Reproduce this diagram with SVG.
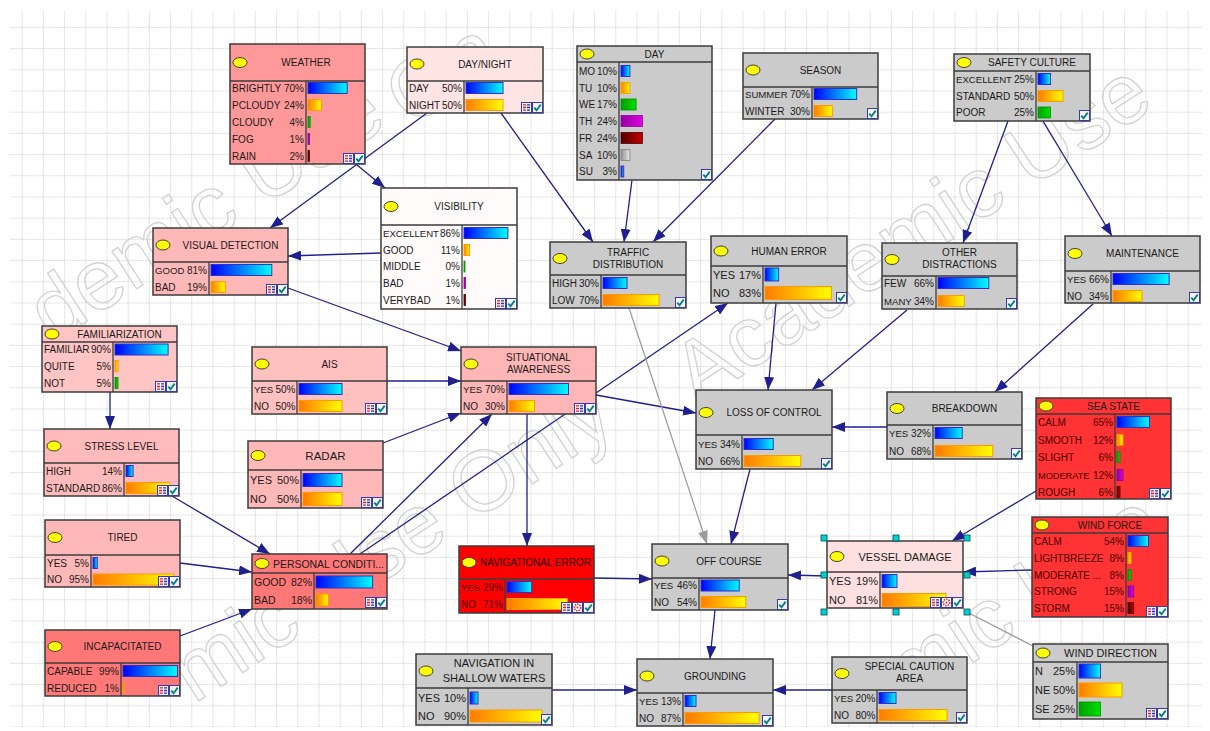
<svg xmlns="http://www.w3.org/2000/svg" width="1210" height="731" viewBox="0 0 1210 731">
<defs>
<style>
.nb{stroke:#3c3c3c;stroke-width:1.5}
.sp{stroke:#3c3c3c;stroke-width:1.3;fill:none}
.el{fill:#ffff00;stroke:#404040;stroke-width:1}
.tt{font-family:"Liberation Sans",Arial,sans-serif;font-size:10px;fill:#1a1a1a;text-anchor:middle}
.r{font-family:"Liberation Sans",Arial,sans-serif;font-size:10px;fill:#1a1a1a}
.t9{font-size:9.6px}
.t8{font-size:9.2px}
.f11{font-size:11px}
.f105{font-size:10.5px}
.pe{text-anchor:end}
.dk{fill:#4a0000}
.bB{fill:url(#gB);stroke:#3030c8;stroke-width:1}
.bO{fill:url(#gO);stroke:#ff9a00;stroke-width:1}
.bG{fill:url(#gG);stroke:#009000;stroke-width:0.8}
.bM{fill:url(#gM);stroke:#9000a0;stroke-width:0.8}
.bR{fill:url(#gR);stroke:#500000;stroke-width:0.8}
.bS{fill:url(#gS);stroke:#808080;stroke-width:0.8}
.ed{stroke:#1f1f8f;stroke-width:1.3;fill:none;marker-end:url(#arr)}
.eg{stroke:#9a9a9a;stroke-width:1.2;fill:none}
.wm{font-family:"Liberation Sans",Arial,sans-serif;font-size:85px;fill:none;stroke:#d2d2d2;stroke-width:1.3}
.hd{fill:#00d0d0;stroke:#005050;stroke-width:0.8}
</style>
<linearGradient id="gB"><stop offset="0" stop-color="#0000ff"/><stop offset="1" stop-color="#00ffff"/></linearGradient>
<linearGradient id="gO"><stop offset="0" stop-color="#ff7a00"/><stop offset="1" stop-color="#ffff00"/></linearGradient>
<linearGradient id="gG"><stop offset="0" stop-color="#00a000"/><stop offset="1" stop-color="#00e000"/></linearGradient>
<linearGradient id="gM"><stop offset="0" stop-color="#9000a0"/><stop offset="1" stop-color="#e000e0"/></linearGradient>
<linearGradient id="gR"><stop offset="0" stop-color="#500000"/><stop offset="1" stop-color="#c80000"/></linearGradient>
<linearGradient id="gS"><stop offset="0" stop-color="#909090"/><stop offset="1" stop-color="#e8e8e8"/></linearGradient>
<pattern id="grid" width="21.2" height="21.2" patternUnits="userSpaceOnUse" x="0.5" y="5.7">
<path d="M0 0.5H21.2M0.5 0V21.2" stroke="#d6d6d6" stroke-width="1" stroke-dasharray="1.5 1" fill="none"/>
</pattern>
<marker id="arr" viewBox="0 0 13 10" markerWidth="13" markerHeight="10" refX="13" refY="5" orient="auto" markerUnits="userSpaceOnUse">
<path d="M0 0L13 5L0 10z" fill="#1f1f8f"/>
</marker>
<marker id="arrg" viewBox="0 0 13 10" markerWidth="13" markerHeight="10" refX="13" refY="5" orient="auto" markerUnits="userSpaceOnUse">
<path d="M0 0L13 5L0 10z" fill="#9a9a9a"/>
</marker>
<g id="icC"><rect x="0.5" y="0.5" width="10" height="10" fill="#f4f4ff" stroke="#3a3aa8"/><path d="M2.3 5.6L4.5 8.2L8.7 2.6" stroke="#008080" stroke-width="1.8" fill="none"/></g>
<g id="icT"><rect x="0.5" y="0.5" width="10" height="10" fill="#f4f4ff" stroke="#3a3aa8"/><path d="M2 2.8h3M2 5.5h3M2 8.2h3" stroke="#e02020" stroke-width="1.3"/><path d="M6 2.8h3M6 5.5h3M6 8.2h3" stroke="#2a2ac0" stroke-width="1.3"/></g>
<g id="icS"><rect x="0.5" y="0.5" width="10" height="10" fill="#ffffff" stroke="#3a3aa8"/><circle cx="5.5" cy="5.5" r="3.2" fill="none" stroke="#e02020" stroke-width="1.6" stroke-dasharray="1.4 1"/><circle cx="5.5" cy="5.5" r="1" fill="#e02020"/></g>
</defs>

<rect width="1210" height="731" fill="#ffffff"/>
<rect x="10" y="11" width="1192" height="716" fill="url(#grid)"/>

<g id="watermark">
<text class="wm" transform="translate(52.5 343.4) rotate(-33)">demic</text>
<text class="wm" transform="translate(263 207) rotate(-33)">Use</text>
<text class="wm" transform="translate(410 128) rotate(-33)">On</text>
<text class="wm" transform="translate(194 704) rotate(-33)">mic</text>
<text class="wm" transform="translate(325 619) rotate(-33)">Use</text>
<text class="wm" transform="translate(472 523) rotate(-33)">Only</text>
<text class="wm" transform="translate(697 405) rotate(-33)">Academic</text>
<text class="wm" transform="translate(1030 189) rotate(-33)">Use</text>
<text class="wm" transform="translate(909 704) rotate(-33)">mic</text>
<text class="wm" transform="translate(1040 619) rotate(-33)">Use</text>
</g>

<g id="connectors">
<path class="ed" d="M427 113L270 228"/>
<path class="ed" d="M357 165L385 188"/>
<path class="ed" d="M501 113L593 242"/>
<path class="ed" d="M632 180L624 242"/>
<path class="ed" d="M775 119L653 242"/>
<path class="ed" d="M1008 121L963 243"/>
<path class="ed" d="M1043 121L1112 236"/>
<path class="ed" d="M381 253L288 256"/>
<path class="ed" d="M288 288L461 351"/>
<path class="ed" d="M387 381L461 381"/>
<path class="ed" d="M383 443L461 413"/>
<path class="ed" d="M350 554L492 414"/>
<path class="ed" d="M360 554L728 303"/>
<path class="ed" d="M596 395L696 413"/>
<path class="ed" d="M527 414L527 546"/>
<path class="ed" d="M776 303L768 390"/>
<path class="ed" d="M907 310L812 390"/>
<path class="ed" d="M1093 304L995 392"/>
<path class="ed" d="M887 427L832 427"/>
<path class="ed" d="M750 469L731 544"/>
<path class="eg" d="M629 308L707 544" marker-end="url(#arrg)"/>
<path class="ed" d="M594 578L652 579"/>
<path class="ed" d="M827 576L788 575"/>
<path class="ed" d="M1036 491L952 541"/>
<path class="ed" d="M1032 570L963 572"/>
<path class="eg" d="M1033 646L967 612"/>
<path class="ed" d="M715 610L710 659"/>
<path class="ed" d="M552 690L637 690"/>
<path class="ed" d="M832 690L773 690"/>
<path class="ed" d="M110 392L110 429"/>
<path class="ed" d="M172 496L270 554"/>
<path class="ed" d="M180 563L252 572"/>
<path class="ed" d="M180 636L252 609"/>
</g>

<g id="weather">
<rect class="nb" x="230" y="44" width="135" height="120" fill="#ff9999"/>
<path class="sp" d="M230 81H365M306 81V164"/>
<ellipse class="el" cx="240" cy="62.5" rx="7" ry="5"/>
<text class="tt" x="306" y="66">WEATHER</text>
<text class="r" x="232" y="91.5">BRIGHTLY</text><text class="r pe" x="304" y="91.5">70%</text><rect class="bB" x="308" y="82.5" width="39.2" height="11"/>
<text class="r" x="232" y="108.5">PCLOUDY</text><text class="r pe" x="304" y="108.5">24%</text><rect class="bO" x="308" y="99.5" width="13.4" height="11"/>
<text class="r" x="232" y="125.5">CLOUDY</text><text class="r pe" x="304" y="125.5">4%</text><rect class="bG" x="308" y="116.5" width="2.2" height="11"/>
<text class="r" x="232" y="142.5">FOG</text><text class="r pe" x="304" y="142.5">1%</text><rect class="bM" x="308" y="133.5" width="1.5" height="11"/>
<text class="r" x="232" y="159.5">RAIN</text><text class="r pe" x="304" y="159.5">2%</text><rect class="bR" x="308" y="150.5" width="1.5" height="11"/>
<use href="#icT" x="343" y="153"/><use href="#icC" x="354" y="153"/>
</g>

<g id="daynight">
<rect class="nb" x="407" y="47" width="136" height="66" fill="#ffe4e4"/>
<path class="sp" d="M407 81H543M464 81V113"/>
<ellipse class="el" cx="417" cy="64" rx="7" ry="5"/>
<text class="tt" x="485" y="67.5">DAY/NIGHT</text>
<text class="r" x="409" y="91.5">DAY</text><text class="r pe" x="462" y="91.5">50%</text><rect class="bB" x="466" y="82.5" width="37" height="11"/>
<text class="r" x="409" y="108.5">NIGHT</text><text class="r pe" x="462" y="108.5">50%</text><rect class="bO" x="466" y="99.5" width="37" height="11"/>
<use href="#icT" x="521" y="102"/><use href="#icC" x="532" y="102"/>
</g>

<g id="day">
<rect class="nb" x="577" y="46" width="135" height="134" fill="#cbcbcb"/>
<path class="sp" d="M577 62H712M619 62V180"/>
<ellipse class="el" cx="587" cy="54" rx="7" ry="5"/>
<text class="tt" x="654.5" y="57.5">DAY</text>
<text class="r" x="579" y="74.5">MO</text><text class="r pe" x="617" y="74.5">10%</text><rect class="bB" x="621" y="65.5" width="8.9" height="11"/>
<text class="r" x="579" y="91.5">TU</text><text class="r pe" x="617" y="91.5">10%</text><rect class="bO" x="621" y="82.5" width="8.9" height="11"/>
<text class="r" x="579" y="108">WE</text><text class="r pe" x="617" y="108">17%</text><rect class="bG" x="621" y="99" width="15.1" height="11"/>
<text class="r" x="579" y="124.5">TH</text><text class="r pe" x="617" y="124.5">24%</text><rect class="bM" x="621" y="115.5" width="21.4" height="11"/>
<text class="r" x="579" y="141.5">FR</text><text class="r pe" x="617" y="141.5">24%</text><rect class="bR" x="621" y="132.5" width="21.4" height="11"/>
<text class="r" x="579" y="158.5">SA</text><text class="r pe" x="617" y="158.5">10%</text><rect class="bS" x="621" y="149.5" width="8.9" height="11"/>
<text class="r" x="579" y="175">SU</text><text class="r pe" x="617" y="175">3%</text><rect class="bB" x="621" y="166" width="2.7" height="11"/>
<use href="#icC" x="701" y="169"/>
</g>

<g id="season">
<rect class="nb" x="743" y="53" width="135" height="66" fill="#cbcbcb"/>
<path class="sp" d="M743 87H878M812 87V119"/>
<ellipse class="el" cx="753" cy="70" rx="7" ry="5"/>
<text class="tt" x="820.5" y="73.5">SEASON</text>
<text class="r t9" x="745" y="97.5">SUMMER</text><text class="r pe" x="810" y="97.5">70%</text><rect class="bB" x="814" y="88.5" width="42.7" height="11"/>
<text class="r" x="745" y="114.5">WINTER</text><text class="r pe" x="810" y="114.5">30%</text><rect class="bO" x="814" y="105.5" width="18.3" height="11"/>
<use href="#icC" x="867" y="108"/>
</g>

<g id="safetyculture">
<rect class="nb" x="954" y="54" width="136" height="67" fill="#cbcbcb"/>
<path class="sp" d="M954 71H1090M1036 71V121"/>
<ellipse class="el" cx="964" cy="62.5" rx="7" ry="5"/>
<text class="tt" x="1032" y="66">SAFETY CULTURE</text>
<text class="r t9" x="956" y="82.5">EXCELLENT</text><text class="r pe" x="1034" y="82.5">25%</text><rect class="bB" x="1038" y="73.5" width="12.5" height="11"/>
<text class="r" x="956" y="99.5">STANDARD</text><text class="r pe" x="1034" y="99.5">50%</text><rect class="bO" x="1038" y="90.5" width="25" height="11"/>
<text class="r" x="956" y="116">POOR</text><text class="r pe" x="1034" y="116">25%</text><rect class="bG" x="1038" y="107" width="12.5" height="11"/>
<use href="#icC" x="1079" y="110"/>
</g>

<g id="visibility">
<rect class="nb" x="381" y="188" width="136" height="121" fill="#fffbfb"/>
<path class="sp" d="M381 225H517M462 225V309"/>
<ellipse class="el" cx="391" cy="206.5" rx="7" ry="5"/>
<text class="tt" x="459" y="210">VISIBILITY</text>
<text class="r t9" x="383" y="236.5">EXCELLENT</text><text class="r pe" x="460" y="236.5">86%</text><rect class="bB" x="464" y="227.5" width="43.9" height="11"/>
<text class="r" x="383" y="253.5">GOOD</text><text class="r pe" x="460" y="253.5">11%</text><rect class="bO" x="464" y="244.5" width="5.6" height="11"/>
<text class="r" x="383" y="270">MIDDLE</text><text class="r pe" x="460" y="270">0%</text><rect class="bG" x="464" y="261" width="1" height="11"/>
<text class="r" x="383" y="286.5">BAD</text><text class="r pe" x="460" y="286.5">1%</text><rect class="bM" x="464" y="277.5" width="1.5" height="11"/>
<text class="r" x="383" y="303.5">VERYBAD</text><text class="r pe" x="460" y="303.5">1%</text><rect class="bR" x="464" y="294.5" width="1.5" height="11"/>
<use href="#icT" x="495" y="298"/><use href="#icC" x="506" y="298"/>
</g>

<g id="visualdetection">
<rect class="nb" x="153" y="228" width="135" height="67" fill="#ffb8b8"/>
<path class="sp" d="M153 262H288M209 262V295"/>
<ellipse class="el" cx="163" cy="245" rx="7" ry="5"/>
<text class="tt" x="230.5" y="248.5">VISUAL DETECTION</text>
<text class="r t9" x="155" y="273.5">GOOD</text><text class="r pe" x="207" y="273.5">81%</text><rect class="bB" x="211" y="264.5" width="60.8" height="11"/>
<text class="r" x="155" y="290.5">BAD</text><text class="r pe" x="207" y="290.5">19%</text><rect class="bO" x="211" y="281.5" width="14.3" height="11"/>
<use href="#icT" x="266" y="284"/><use href="#icC" x="277" y="284"/>
</g>

<g id="trafficdistribution">
<rect class="nb" x="550" y="242" width="136" height="66" fill="#cbcbcb"/>
<path class="sp" d="M550 275H686M601 275V308"/>
<ellipse class="el" cx="560" cy="258.5" rx="7" ry="5"/>
<text class="tt" x="628" y="255.5">TRAFFIC</text>
<text class="tt" x="628" y="267.5">DISTRIBUTION</text>
<text class="r" x="552" y="286.5">HIGH</text><text class="r pe" x="599" y="286.5">30%</text><rect class="bB" x="603" y="277.5" width="24" height="11"/>
<text class="r" x="552" y="303.5">LOW</text><text class="r pe" x="599" y="303.5">70%</text><rect class="bO" x="603" y="294.5" width="56" height="11"/>
<use href="#icC" x="675" y="297"/>
</g>

<g id="humanerror">
<rect class="nb" x="711" y="236" width="136" height="67" fill="#cbcbcb"/>
<path class="sp" d="M711 266H847M763 266V303"/>
<ellipse class="el" cx="721" cy="251" rx="7" ry="5"/>
<text class="tt" x="789" y="254.5">HUMAN ERROR</text>
<text class="r f11" x="713" y="278.5">YES</text><text class="r f11 pe" x="761" y="278.5">17%</text><rect class="bB" x="765" y="268" width="13.6" height="13"/>
<text class="r f11" x="713" y="297">NO</text><text class="r f11 pe" x="761" y="297">83%</text><rect class="bO" x="765" y="286.5" width="66.4" height="13"/>
<use href="#icC" x="836" y="292"/>
</g>

<g id="otherdistractions">
<rect class="nb" x="882" y="243" width="135" height="66" fill="#cbcbcb"/>
<path class="sp" d="M882 276H1017M936 276V309"/>
<ellipse class="el" cx="892" cy="259.5" rx="7" ry="5"/>
<text class="tt" x="959.5" y="255.5">OTHER</text>
<text class="tt" x="959.5" y="267.5">DISTRACTIONS</text>
<text class="r" x="884" y="286.5">FEW</text><text class="r pe" x="934" y="286.5">66%</text><rect class="bB" x="938" y="277.5" width="50.8" height="11"/>
<text class="r t9" x="884" y="304.5">MANY</text><text class="r pe" x="934" y="304.5">34%</text><rect class="bO" x="938" y="295.5" width="26.2" height="11"/>
<use href="#icC" x="1006" y="298"/>
</g>

<g id="maintenance">
<rect class="nb" x="1065" y="236" width="135" height="67" fill="#cbcbcb"/>
<path class="sp" d="M1065 271H1200M1111 271V303"/>
<ellipse class="el" cx="1075" cy="253.5" rx="7" ry="5"/>
<text class="tt" x="1142.5" y="257">MAINTENANCE</text>
<text class="r t9" x="1067" y="282.5">YES</text><text class="r pe" x="1109" y="282.5">66%</text><rect class="bB" x="1113" y="273.5" width="56.1" height="11"/>
<text class="r" x="1067" y="299.5">NO</text><text class="r pe" x="1109" y="299.5">34%</text><rect class="bO" x="1113" y="290.5" width="28.9" height="11"/>
<use href="#icC" x="1189" y="292"/>
</g>

<g id="familiarization">
<rect class="nb" x="42" y="326" width="135" height="66" fill="#ffc4c4"/>
<path class="sp" d="M42 342H177M113 342V392"/>
<ellipse class="el" cx="52" cy="334" rx="7" ry="5"/>
<text class="tt" x="119.5" y="337.5">FAMILIARIZATION</text>
<text class="r" x="44" y="353">FAMILIAR</text><text class="r pe" x="111" y="353">90%</text><rect class="bB" x="115" y="344" width="53.1" height="11"/>
<text class="r" x="44" y="369.5">QUITE</text><text class="r pe" x="111" y="369.5">5%</text><rect class="bO" x="115" y="360.5" width="3" height="11"/>
<text class="r" x="44" y="386.5">NOT</text><text class="r pe" x="111" y="386.5">5%</text><rect class="bG" x="115" y="377.5" width="3" height="11"/>
<use href="#icT" x="155" y="381"/><use href="#icC" x="166" y="381"/>
</g>

<g id="ais">
<rect class="nb" x="252" y="347" width="135" height="67" fill="#ffc0c0"/>
<path class="sp" d="M252 381H387M297 381V414"/>
<ellipse class="el" cx="262" cy="364" rx="7" ry="5"/>
<text class="tt" x="329.5" y="367.5">AIS</text>
<text class="r t9" x="254" y="392.5">YES</text><text class="r pe" x="295.5" y="392.5">50%</text><rect class="bB" x="299" y="383.5" width="43" height="11"/>
<text class="r" x="254" y="409.5">NO</text><text class="r pe" x="295.5" y="409.5">50%</text><rect class="bO" x="299" y="400.5" width="43" height="11"/>
<use href="#icT" x="365" y="403"/><use href="#icC" x="376" y="403"/>
</g>

<g id="situationalawareness">
<rect class="nb" x="461" y="347" width="135" height="67" fill="#ffb6b6"/>
<path class="sp" d="M461 381H596M507 381V414"/>
<ellipse class="el" cx="471" cy="364" rx="7" ry="5"/>
<text class="tt" x="538.5" y="360.5">SITUATIONAL</text>
<text class="tt" x="538.5" y="372.5">AWARENESS</text>
<text class="r t9" x="463" y="392.5">YES</text><text class="r pe" x="505" y="392.5">70%</text><rect class="bB" x="509" y="383.5" width="59.5" height="11"/>
<text class="r" x="463" y="409.5">NO</text><text class="r pe" x="505" y="409.5">30%</text><rect class="bO" x="509" y="400.5" width="25.5" height="11"/>
<use href="#icT" x="574" y="403"/><use href="#icC" x="585" y="403"/>
</g>

<g id="lossofcontrol">
<rect class="nb" x="696" y="390" width="136" height="79" fill="#cbcbcb"/>
<path class="sp" d="M696 435H832M742 435V469"/>
<ellipse class="el" cx="706" cy="412.5" rx="7" ry="5"/>
<text class="tt" x="774" y="416">LOSS OF CONTROL</text>
<text class="r t9" x="698" y="447.5">YES</text><text class="r pe" x="740" y="447.5">34%</text><rect class="bB" x="744" y="438.5" width="29.2" height="11"/>
<text class="r" x="698" y="464.5">NO</text><text class="r pe" x="740" y="464.5">66%</text><rect class="bO" x="744" y="455.5" width="56.8" height="11"/>
<use href="#icC" x="821" y="458"/>
</g>

<g id="breakdown">
<rect class="nb" x="887" y="392" width="135" height="67" fill="#cbcbcb"/>
<path class="sp" d="M887 425H1022M933 425V459"/>
<ellipse class="el" cx="897" cy="408.5" rx="7" ry="5"/>
<text class="tt" x="964.5" y="412">BREAKDOWN</text>
<text class="r t9" x="889" y="436.5">YES</text><text class="r pe" x="931" y="436.5">32%</text><rect class="bB" x="935" y="427.5" width="27.2" height="11"/>
<text class="r" x="889" y="454.5">NO</text><text class="r pe" x="931" y="454.5">68%</text><rect class="bO" x="935" y="445.5" width="57.8" height="11"/>
<use href="#icC" x="1011" y="448"/>
</g>

<g id="seastate">
<rect class="nb" x="1036" y="398" width="135" height="101" fill="#ff3333"/>
<path class="sp" d="M1036 414H1171M1115 414V499"/>
<ellipse class="el" cx="1046" cy="406" rx="7" ry="5"/>
<text class="tt" x="1113.5" y="409.5">SEA STATE</text>
<text class="r dk" x="1038" y="425.5">CALM</text><text class="r dk pe" x="1113" y="425.5">65%</text><rect class="bB" x="1117" y="416.5" width="32.5" height="11"/>
<text class="r dk" x="1038" y="443.5">SMOOTH</text><text class="r dk pe" x="1113" y="443.5">12%</text><rect class="bO" x="1117" y="434.5" width="6" height="11"/>
<text class="r dk" x="1038" y="460.5">SLIGHT</text><text class="r dk pe" x="1113" y="460.5">6%</text><rect class="bG" x="1117" y="451.5" width="3" height="11"/>
<text class="r dk t8" x="1038" y="478.5">MODERATE</text><text class="r dk pe" x="1113" y="478.5">12%</text><rect class="bM" x="1117" y="469.5" width="6" height="11"/>
<text class="r dk" x="1038" y="495.5">ROUGH</text><text class="r dk pe" x="1113" y="495.5">6%</text><rect class="bR" x="1117" y="486.5" width="3" height="11"/>
<use href="#icT" x="1149" y="488"/><use href="#icC" x="1160" y="488"/>
</g>

<g id="stresslevel">
<rect class="nb" x="44" y="429" width="135" height="67" fill="#ffbbbb"/>
<path class="sp" d="M44 463H179M124 463V496"/>
<ellipse class="el" cx="54" cy="446" rx="7" ry="5"/>
<text class="tt" x="121.5" y="449.5">STRESS LEVEL</text>
<text class="r" x="46" y="474.5">HIGH</text><text class="r pe" x="122" y="474.5">14%</text><rect class="bB" x="126" y="465.5" width="7.1" height="11"/>
<text class="r" x="46" y="491.5">STANDARD</text><text class="r pe" x="122" y="491.5">86%</text><rect class="bO" x="126" y="482.5" width="43.9" height="11"/>
<use href="#icT" x="157" y="485"/><use href="#icC" x="168" y="485"/>
</g>

<g id="radar">
<rect class="nb" x="248" y="441" width="135" height="67" fill="#ffb8b8"/>
<path class="sp" d="M248 470H383M301 470V508"/>
<ellipse class="el" cx="258" cy="455.5" rx="7" ry="5"/>
<text class="tt" x="325.5" y="459.5" style="font-size:11.5px">RADAR</text>
<text class="r f11" x="250" y="484">YES</text><text class="r f11 pe" x="299" y="484">50%</text><rect class="bB" x="303" y="473.5" width="39" height="13"/>
<text class="r f11" x="250" y="503">NO</text><text class="r f11 pe" x="299" y="503">50%</text><rect class="bO" x="303" y="492.5" width="39" height="13"/>
<use href="#icT" x="361" y="497"/><use href="#icC" x="372" y="497"/>
</g>

<g id="tired">
<rect class="nb" x="45" y="520" width="135" height="67" fill="#ffb8b8"/>
<path class="sp" d="M45 555H180M91 555V587"/>
<ellipse class="el" cx="55" cy="537.5" rx="7" ry="5"/>
<text class="tt" x="122.5" y="541">TIRED</text>
<text class="r" x="47" y="566.5">YES</text><text class="r pe" x="89" y="566.5">5%</text><rect class="bB" x="93" y="557.5" width="4.3" height="11"/>
<text class="r" x="47" y="583">NO</text><text class="r pe" x="89" y="583">95%</text><rect class="bO" x="93" y="574" width="80.8" height="11"/>
<use href="#icT" x="158" y="576"/><use href="#icC" x="169" y="576"/>
</g>

<g id="personalcondition">
<rect class="nb" x="252" y="554" width="135" height="55" fill="#ff7777"/>
<path class="sp" d="M252 573H387M314 573V609"/>
<ellipse class="el" cx="262" cy="563.5" rx="7" ry="5"/>
<text class="r" x="273" y="567.5" style="font-size:11px" textLength="111" lengthAdjust="spacingAndGlyphs">PERSONAL CONDITI...</text>
<text class="r f105" x="254" y="585.8">GOOD</text><text class="r f105 pe" x="312" y="585.8">82%</text><rect class="bB" x="316" y="576" width="56.6" height="12"/>
<text class="r f105" x="254" y="603.8">BAD</text><text class="r f105 pe" x="312" y="603.8">18%</text><rect class="bO" x="316" y="594" width="12.4" height="12"/>
<use href="#icT" x="365" y="597"/><use href="#icC" x="376" y="597"/>
</g>

<g id="incapacitated">
<rect class="nb" x="45" y="630" width="135" height="66" fill="#ff7777"/>
<path class="sp" d="M45 663H180M121 663V696"/>
<ellipse class="el" cx="55" cy="646.5" rx="7" ry="5"/>
<text class="tt" x="122.5" y="650">INCAPACITATED</text>
<text class="r" x="47" y="674.5">CAPABLE</text><text class="r pe" x="119" y="674.5">99%</text><rect class="bB" x="123" y="665.5" width="54.5" height="11"/>
<text class="r" x="47" y="691.5">REDUCED</text><text class="r pe" x="119" y="691.5">1%</text><rect class="bO" x="123" y="682.5" width="1" height="11"/>
<use href="#icT" x="158" y="685"/><use href="#icC" x="169" y="685"/>
</g>

<g id="navigationalerror">
<rect class="nb" x="459" y="546" width="135" height="67" fill="#ff0000"/>
<path class="sp" d="M459 579H594M505 579V613"/>
<ellipse class="el" cx="469" cy="562.5" rx="7" ry="5"/>
<text class="r" x="480" y="566" textLength="111" lengthAdjust="spacingAndGlyphs" style="fill:#2a0000;font-size:10px">NAVIGATIONAL ERROR</text>
<text class="r dk t9" x="461" y="590.5">YES</text><text class="r dk pe" x="503" y="590.5">29%</text><rect class="bB" x="507" y="581.5" width="24.7" height="11"/>
<text class="r dk" x="461" y="607.5">NO</text><text class="r dk pe" x="503" y="607.5">71%</text><rect class="bO" x="507" y="598.5" width="60.4" height="11"/>
<use href="#icT" x="561" y="602"/><use href="#icS" x="572" y="602"/><use href="#icC" x="583" y="602"/>
</g>

<g id="offcourse">
<rect class="nb" x="652" y="544" width="136" height="66" fill="#cbcbcb"/>
<path class="sp" d="M652 578H788M699 578V610"/>
<ellipse class="el" cx="662" cy="561" rx="7" ry="5"/>
<text class="tt" x="729" y="564.5">OFF COURSE</text>
<text class="r t9" x="654" y="589">YES</text><text class="r pe" x="697" y="589">46%</text><rect class="bB" x="701" y="580" width="38.2" height="11"/>
<text class="r" x="654" y="605.5">NO</text><text class="r pe" x="697" y="605.5">54%</text><rect class="bO" x="701" y="596.5" width="44.8" height="11"/>
<use href="#icC" x="777" y="599"/>
</g>

<g id="vesseldamage">
<rect class="nb" x="827" y="541" width="136" height="67" fill="#ffe0e0"/>
<path class="sp" d="M827 572H963M880 572V608"/>
<ellipse class="el" cx="837" cy="556.5" rx="7" ry="5"/>
<text class="tt" x="905" y="560.5" style="font-size:11px">VESSEL DAMAGE</text>
<text class="r f11" x="829" y="585">YES</text><text class="r f11 pe" x="878" y="585">19%</text><rect class="bB" x="882" y="574.5" width="15" height="13"/>
<text class="r f11" x="829" y="604">NO</text><text class="r f11 pe" x="878" y="604">81%</text><rect class="bO" x="882" y="593.5" width="64" height="13"/>
<use href="#icT" x="930" y="597"/><use href="#icS" x="941" y="597"/><use href="#icC" x="952" y="597"/>
<rect class="hd" x="821" y="535" width="6" height="6"/><rect class="hd" x="893" y="535" width="6" height="6"/><rect class="hd" x="964" y="535" width="6" height="6"/>
<rect class="hd" x="821" y="572" width="6" height="6"/><rect class="hd" x="964" y="572" width="6" height="6"/>
<rect class="hd" x="821" y="609" width="6" height="6"/><rect class="hd" x="893" y="609" width="6" height="6"/><rect class="hd" x="964" y="609" width="6" height="6"/>
</g>

<g id="windforce">
<rect class="nb" x="1032" y="517" width="136" height="100" fill="#ff3333"/>
<path class="sp" d="M1032 533H1168M1126 533V617"/>
<ellipse class="el" cx="1042" cy="525" rx="7" ry="5"/>
<text class="tt" x="1110" y="528.5">WIND FORCE</text>
<text class="r dk" x="1034" y="544.5">CALM</text><text class="r dk pe" x="1124" y="544.5">54%</text><rect class="bB" x="1128" y="535.5" width="20.5" height="11"/>
<text class="r dk" x="1034" y="561.5">LIGHTBREEZE</text><text class="r dk pe" x="1124" y="561.5">8%</text><rect class="bO" x="1128" y="552.5" width="3" height="11"/>
<text class="r dk" x="1034" y="578.5">MODERATE ...</text><text class="r dk pe" x="1124" y="578.5">8%</text><rect class="bG" x="1128" y="569.5" width="3" height="11"/>
<text class="r dk" x="1034" y="595">STRONG</text><text class="r dk pe" x="1124" y="595">15%</text><rect class="bM" x="1128" y="586" width="5.7" height="11"/>
<text class="r dk" x="1034" y="611.5">STORM</text><text class="r dk pe" x="1124" y="611.5">15%</text><rect class="bR" x="1128" y="602.5" width="5.7" height="11"/>
<use href="#icT" x="1146" y="606"/><use href="#icC" x="1157" y="606"/>
</g>

<g id="navshallow">
<rect class="nb" x="416" y="654" width="136" height="71" fill="#cbcbcb"/>
<path class="sp" d="M416 688H552M468 688V725"/>
<ellipse class="el" cx="426" cy="671" rx="7" ry="5"/>
<text class="tt" x="494" y="667" style="font-size:11px">NAVIGATION IN</text>
<text class="tt" x="494" y="682" style="font-size:11px">SHALLOW WATERS</text>
<text class="r f11" x="418" y="702">YES</text><text class="r f11 pe" x="466" y="702">10%</text><rect class="bB" x="470" y="692" width="8" height="12"/>
<text class="r f11" x="418" y="720">NO</text><text class="r f11 pe" x="466" y="720">90%</text><rect class="bO" x="470" y="710" width="72" height="12"/>
<use href="#icC" x="541" y="714"/>
</g>

<g id="grounding">
<rect class="nb" x="637" y="659" width="136" height="67" fill="#cbcbcb"/>
<path class="sp" d="M637 693H773M683 693V726"/>
<ellipse class="el" cx="647" cy="676" rx="7" ry="5"/>
<text class="tt" x="715" y="679.5">GROUNDING</text>
<text class="r t9" x="639" y="704.5">YES</text><text class="r pe" x="681" y="704.5">13%</text><rect class="bB" x="685" y="695.5" width="11" height="11"/>
<text class="r" x="639" y="721.5">NO</text><text class="r pe" x="681" y="721.5">87%</text><rect class="bO" x="685" y="712.5" width="74" height="11"/>
<use href="#icC" x="762" y="715"/>
</g>

<g id="specialcaution">
<rect class="nb" x="832" y="657" width="135" height="66" fill="#cbcbcb"/>
<path class="sp" d="M832 690H967M877 690V723"/>
<ellipse class="el" cx="842" cy="673.5" rx="7" ry="5"/>
<text class="tt" x="909.5" y="669.5">SPECIAL CAUTION</text>
<text class="tt" x="909.5" y="681.5">AREA</text>
<text class="r t9" x="834" y="701.5">YES</text><text class="r pe" x="875.5" y="701.5">20%</text><rect class="bB" x="879" y="692.5" width="17" height="11"/>
<text class="r" x="834" y="718.5">NO</text><text class="r pe" x="875.5" y="718.5">80%</text><rect class="bO" x="879" y="709.5" width="68" height="11"/>
<use href="#icC" x="956" y="712"/>
</g>

<g id="winddirection">
<rect class="nb" x="1033" y="644" width="135" height="75" fill="#cbcbcb"/>
<path class="sp" d="M1033 662H1168M1077 662V719"/>
<ellipse class="el" cx="1043" cy="653" rx="7" ry="5"/>
<text class="tt" x="1110.5" y="657" style="font-size:11px">WIND DIRECTION</text>
<text class="r f11" x="1035" y="675">N</text><text class="r f11 pe" x="1075" y="675">25%</text><rect class="bB" x="1079" y="664" width="21.5" height="14"/>
<text class="r f11" x="1035" y="694">NE</text><text class="r f11 pe" x="1075" y="694">50%</text><rect class="bO" x="1079" y="683" width="43" height="14"/>
<text class="r f11" x="1035" y="713">SE</text><text class="r f11 pe" x="1075" y="713">25%</text><rect class="bG" x="1079" y="702" width="21.5" height="14"/>
<use href="#icT" x="1146" y="708"/><use href="#icC" x="1157" y="708"/>
</g>
</svg>
